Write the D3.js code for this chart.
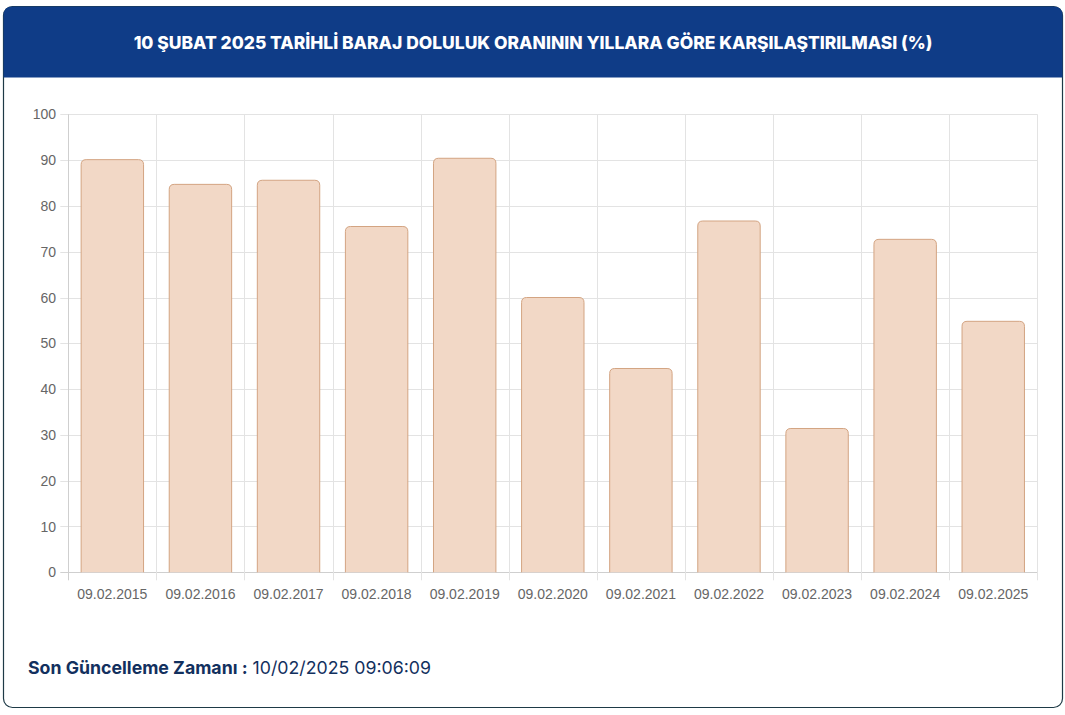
<!DOCTYPE html>
<html>
<head>
<meta charset="utf-8">
<script src="https://cdn.jsdelivr.net/npm/d3@7"></script>
<style>
  body { margin: 0; background: #fff; }
  svg { display: block; }
</style>
</head>
<body>
<svg id="chart" width="1065" height="715"></svg>
<script>
// data
const dates = ["09.02.2015", "09.02.2016", "09.02.2017", "09.02.2018", "09.02.2019", "09.02.2020",
  "09.02.2021", "09.02.2022", "09.02.2023", "09.02.2024", "09.02.2025"];
const fillRates = [90.1, 84.7, 85.6, 75.5, 90.4, 60.0, 44.5, 76.7, 31.4, 72.7, 54.8];
const yTicks = [0, 10, 20, 30, 40, 50, 60, 70, 80, 90, 100];

const title = "10 ŞUBAT 2025 TARİHLİ BARAJ DOLULUK ORANININ YILLARA GÖRE KARŞILAŞTIRILMASI (%)";
const updateLabel = "Son Güncelleme Zamanı";
const updateTime = "10/02/2025 09:06:09";

const svg = d3.select("#chart");

// card
const cx = 3.5, cy = 6.5, cw = 1059, ch = 701, r = 9, headH = 71;
svg.append("rect")
  .attr("x", cx).attr("y", cy).attr("width", cw).attr("height", ch)
  .attr("rx", r).attr("fill", "#fff")
  .attr("stroke", "#1e3a46").attr("stroke-width", 1.2);

svg.append("path")
  .attr("d", `M${cx},${cy + headH} V${cy + r} Q${cx},${cy} ${cx + r},${cy} H${cx + cw - r} Q${cx + cw},${cy} ${cx + cw},${cy + r} V${cy + headH} Z`)
  .attr("fill", "#0f3c87");

const t = svg.append("text")
  .attr("x", 533).attr("y", 49)
  .attr("text-anchor", "middle")
  .attr("fill", "#fff")
  .attr("font-family", "Inter, 'Open Sans', sans-serif")
  .attr("font-weight", 800)
  .attr("font-size", 15)
  .text(title);
// squeeze to the reference width
const tw = t.node().getComputedTextLength();
t.attr("font-size", 15 * 799 / tw);

// chart area
const margin = { left: 68.3, right: 1037.3, top: 114.3, bottom: 572.3 };

const x = d3.scaleBand()
  .domain(dates)
  .range([margin.left, margin.right])
  .paddingInner(0)
  .paddingOuter(0);

const y = d3.scaleLinear()
  .domain([0, 100])
  .range([margin.bottom, margin.top]);

const grid = svg.append("g");

// horizontal grid + ticks
grid.selectAll("line.h")
  .data(yTicks)
  .join("line")
  .attr("class", "h")
  .attr("x1", margin.left - 8).attr("x2", margin.right)
  .attr("y1", d => Math.round(y(d)) + 0.5).attr("y2", d => Math.round(y(d)) + 0.5)
  .attr("stroke", d => d === 0 ? "#cfcfcf" : "#e3e3e3");

// vertical grid lines at category borders
const borders = dates.map(d => x(d)).concat([margin.right]);
grid.selectAll("line.v")
  .data(borders)
  .join("line")
  .attr("class", "v")
  .attr("x1", d => Math.round(d) + 0.5).attr("x2", d => Math.round(d) + 0.5)
  .attr("y1", margin.top).attr("y2", margin.bottom + 8)
  .attr("stroke", (d, i) => i === 0 ? "#cfcfcf" : "#e3e3e3");

// y labels
svg.append("g").selectAll("text")
  .data(yTicks)
  .join("text")
  .attr("x", 56).attr("y", d => y(d) + 5)
  .attr("text-anchor", "end")
  .attr("fill", "#666")
  .attr("font-family", "'Liberation Sans', Arial, sans-serif")
  .attr("font-size", 14)
  .text(d => d);

// x labels
svg.append("g").selectAll("text")
  .data(dates)
  .join("text")
  .attr("x", d => x(d) + x.bandwidth() / 2)
  .attr("y", 599)
  .attr("text-anchor", "middle")
  .attr("fill", "#666")
  .attr("font-family", "'Liberation Sans', Arial, sans-serif")
  .attr("font-size", 14)
  .text(d => d);

// bars, chart.js style (0.8 * 0.9 of the category)
const barW = x.bandwidth() * 0.72;
const br = 5;
function barPath(d, i) {
  const x0 = x(dates[i]) + (x.bandwidth() - barW) / 2 + 0.5;
  const x1 = x0 + barW - 1;
  const y0 = y(d);
  const yb = y(0);
  return `M${x0},${yb} V${y0 + br} Q${x0},${y0} ${x0 + br},${y0} H${x1 - br} Q${x1},${y0} ${x1},${y0 + br} V${yb}`;
}

svg.append("g").selectAll("path")
  .data(fillRates)
  .join("path")
  .attr("d", barPath)
  .attr("fill", "#f2d8c6")
  .attr("stroke", "#d3a482")
  .attr("stroke-width", 1);

// footer
const foot = svg.append("text")
  .attr("x", 28).attr("y", 674)
  .attr("font-family", "Inter, 'Open Sans', sans-serif")
  .attr("font-size", 17)
  .attr("fill", "#12305e");
foot.append("tspan").attr("font-weight", 700).text(updateLabel + " :");
foot.append("tspan").attr("font-weight", 400).attr("dx", 5).text(updateTime);
const fw = foot.node().getComputedTextLength();
foot.attr("font-size", 17 * 398 / fw);
</script>
</body>
</html>
